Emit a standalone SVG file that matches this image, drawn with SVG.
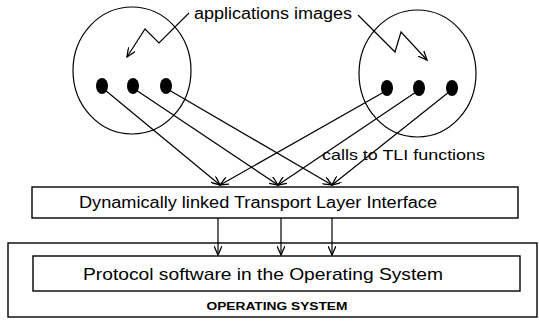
<svg xmlns="http://www.w3.org/2000/svg" width="539" height="323" viewBox="0 0 539 323">
<style>
.ln{stroke:#000;stroke-width:1.2;fill:none}
.box{stroke:#000;stroke-width:1.4;fill:#fff}
.dot{fill:#000}
.t{font-family:"Liberation Sans",Arial,sans-serif;fill:#000}
</style>
<defs>
<marker id="ah" markerWidth="10" markerHeight="8" refX="9" refY="4" orient="auto" markerUnits="userSpaceOnUse">
<path d="M0,0 L9,4 L0,8" fill="none" stroke="#000" stroke-width="1.3"/>
</marker>
</defs>
<rect width="539" height="323" fill="#fff"/>
<g id="os-box">
<rect class="box" x="8" y="243" width="529" height="74"/>
<text class="t" x="277" y="310" font-size="11" font-weight="bold" text-anchor="middle" textLength="141" lengthAdjust="spacingAndGlyphs">OPERATING SYSTEM</text>
</g>
<g id="protocol">
<rect class="box" x="33" y="256" width="487" height="35"/>
<text class="t" x="263" y="280" font-size="17" text-anchor="middle" textLength="360" lengthAdjust="spacingAndGlyphs">Protocol software in the Operating System</text>
</g>
<g id="tli">
<rect class="box" x="32" y="187" width="486" height="31"/>
<text class="t" x="258" y="208" font-size="16" text-anchor="middle" textLength="358" lengthAdjust="spacingAndGlyphs">Dynamically linked Transport Layer Interface</text>
</g>
<g id="app-left">
<ellipse class="ln" cx="132" cy="70.5" rx="59" ry="63.5"/>
<ellipse class="dot" cx="102" cy="86" rx="6" ry="8"/>
<ellipse class="dot" cx="133" cy="86" rx="6" ry="8"/>
<ellipse class="dot" cx="166" cy="86" rx="6" ry="8"/>
</g>
<g id="app-right">
<ellipse class="ln" cx="417.5" cy="73.5" rx="58.5" ry="63.5"/>
<ellipse class="dot" cx="387" cy="88" rx="6" ry="8"/>
<ellipse class="dot" cx="419" cy="88" rx="6" ry="8"/>
<ellipse class="dot" cx="452" cy="88" rx="6" ry="8"/>
</g>
<g id="labels">
<text class="t" x="194" y="19" font-size="16" textLength="158" lengthAdjust="spacingAndGlyphs">applications images</text>
<text class="t" x="322" y="160" font-size="15" textLength="163" lengthAdjust="spacingAndGlyphs">calls to TLI functions</text>
</g>
<g id="connectors">
<polyline class="ln" points="189,13 159,43 145,29 127,57" marker-end="url(#ah)"/>
<polyline class="ln" points="358,15 395,52 401,32 427,60" marker-end="url(#ah)"/>
<line class="ln" x1="105" y1="90" x2="220" y2="185" marker-end="url(#ah)"/>
<line class="ln" x1="136" y1="90" x2="278" y2="185" marker-end="url(#ah)"/>
<line class="ln" x1="169" y1="90" x2="332" y2="185" marker-end="url(#ah)"/>
<line class="ln" x1="384" y1="92" x2="220" y2="185" marker-end="url(#ah)"/>
<line class="ln" x1="416" y1="92" x2="278" y2="185" marker-end="url(#ah)"/>
<line class="ln" x1="449" y1="92" x2="332" y2="185" marker-end="url(#ah)"/>
<line class="ln" x1="218" y1="218" x2="218" y2="255" marker-end="url(#ah)"/>
<line class="ln" x1="281" y1="218" x2="281" y2="255" marker-end="url(#ah)"/>
<line class="ln" x1="332" y1="218" x2="332" y2="255" marker-end="url(#ah)"/>
</g>
</svg>
